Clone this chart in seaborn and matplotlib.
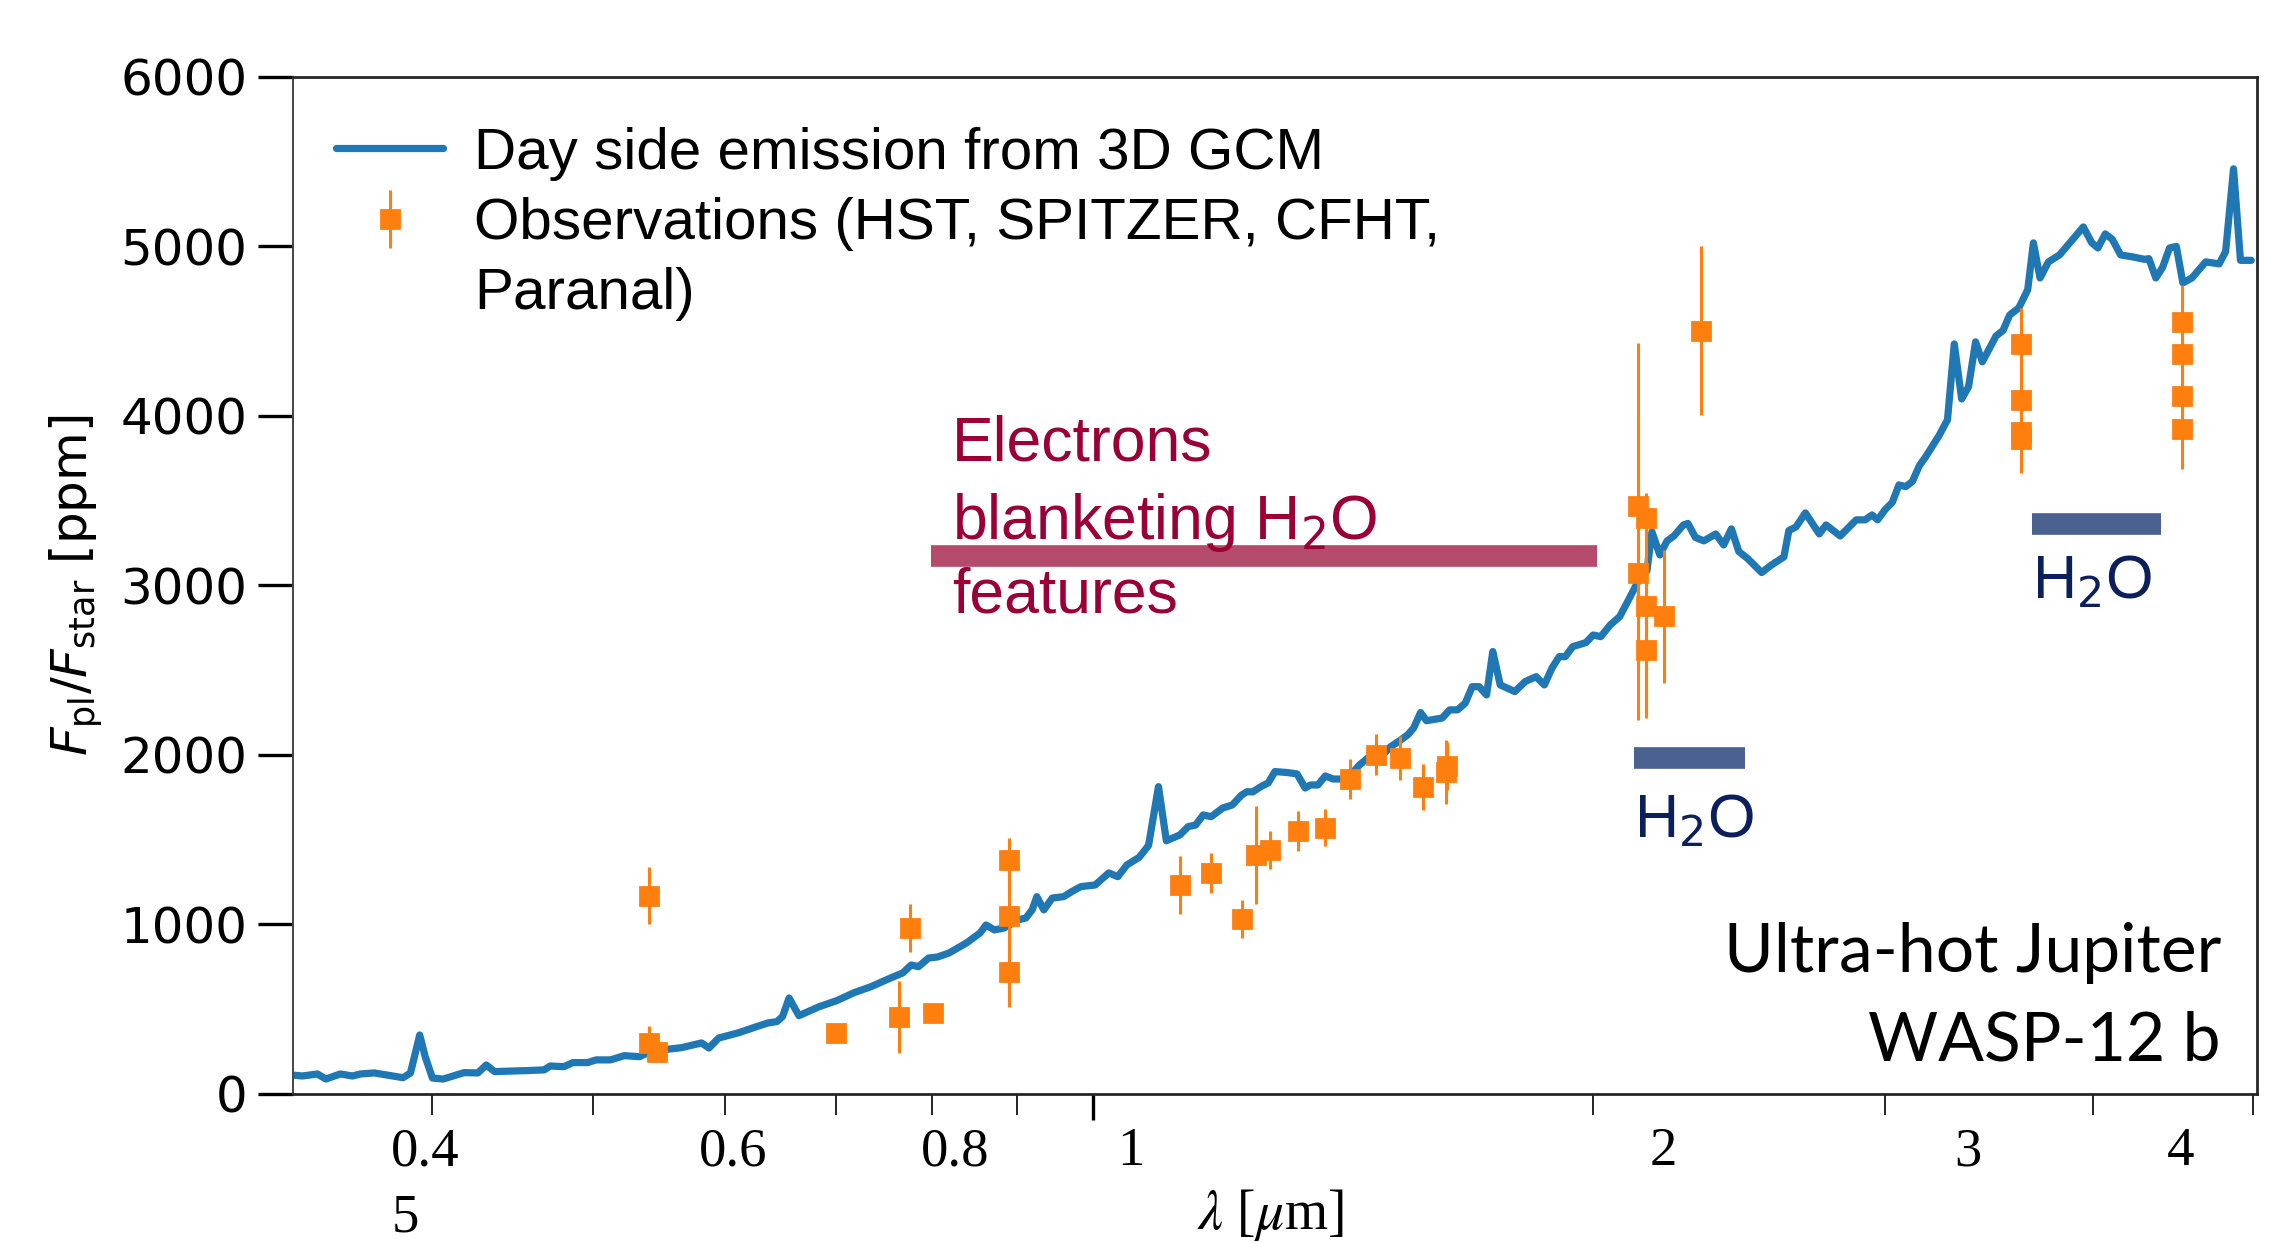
import matplotlib
matplotlib.use("Agg")
import matplotlib.pyplot as plt
import matplotlib.ticker as ticker
import matplotlib.transforms as mtransforms
from matplotlib.lines import Line2D
import seaborn as sns


sns.set_style("ticks")
plt.rcParams['font.family'] = ['DejaVu Sans']
plt.rcParams['axes.linewidth'] = 1.0
plt.rcParams['text.color'] = 'black'
plt.rcParams['axes.labelcolor'] = 'black'
plt.rcParams['xtick.color'] = 'black'
plt.rcParams['ytick.color'] = 'black'

# GCM day side emission spectrum (wavelength in micron, flux ratio in ppm)
model_wl = [0.329, 0.334, 0.341, 0.345, 0.352, 0.358, 0.362, 0.369, 0.384, 0.388,
            0.393, 0.396, 0.400, 0.406, 0.418, 0.426, 0.431, 0.436, 0.456, 0.467,
            0.471, 0.480, 0.486, 0.496, 0.502, 0.512, 0.522, 0.533, 0.539, 0.550,
            0.565, 0.581, 0.587, 0.595, 0.612, 0.627, 0.637, 0.645, 0.650, 0.656,
            0.665, 0.684, 0.701, 0.718, 0.735, 0.753, 0.768, 0.777, 0.785, 0.796,
            0.806, 0.819, 0.839, 0.855, 0.862, 0.872, 0.884, 0.901, 0.911, 0.919,
            0.925, 0.934, 0.945, 0.960, 0.971, 0.983, 1.003, 1.022, 1.035, 1.048,
            1.066, 1.080, 1.095, 1.107, 1.128, 1.141, 1.153, 1.165, 1.178, 1.197,
            1.213, 1.229, 1.238, 1.248, 1.262, 1.275, 1.287, 1.310, 1.327, 1.342,
            1.352, 1.366, 1.380, 1.395, 1.414, 1.433, 1.447, 1.464, 1.483, 1.494,
            1.511, 1.530, 1.547, 1.560, 1.575, 1.588, 1.623, 1.640, 1.658, 1.676,
            1.692, 1.708, 1.726, 1.741, 1.759, 1.795, 1.821, 1.849, 1.870, 1.890,
            1.909, 1.925, 1.945, 1.981, 2.001, 2.022, 2.049, 2.076, 2.097, 2.132,
            2.156, 2.171, 2.195, 2.217, 2.238, 2.268, 2.282, 2.306, 2.333, 2.372,
            2.398, 2.424, 2.449, 2.479, 2.528, 2.560, 2.607, 2.625, 2.651, 2.686,
            2.738, 2.764, 2.819, 2.882, 2.918, 2.946, 2.969, 3.001, 3.030, 3.058,
            3.087, 3.116, 3.146, 3.173, 3.232, 3.271, 3.302, 3.336, 3.368, 3.401,
            3.433, 3.499, 3.533, 3.566, 3.611, 3.656, 3.685, 3.719, 3.763, 3.821,
            3.885, 3.949, 3.996, 4.030, 4.071, 4.111, 4.159, 4.231, 4.299, 4.325,
            4.367, 4.408, 4.451, 4.493, 4.534, 4.591, 4.680, 4.768, 4.811, 4.864,
            4.911, 4.985]
model_flux = [112, 106, 118, 88, 118, 106, 118, 124, 96, 124,
              348, 220, 94, 88, 126, 124, 171, 132, 138, 142,
              165, 161, 185, 185, 201, 201, 226, 220, 242, 260,
              273, 301, 271, 330, 362, 397, 419, 427, 456, 566,
              462, 515, 551, 598, 633, 679, 714, 761, 751, 802,
              808, 832, 891, 950, 997, 968, 979, 1027, 1038, 1086,
              1164, 1086, 1156, 1164, 1194, 1223, 1233, 1304, 1282, 1351,
              1396, 1466, 1813, 1494, 1528, 1577, 1587, 1646, 1636, 1687,
              1705, 1764, 1783, 1782, 1813, 1835, 1902, 1896, 1888, 1805,
              1823, 1823, 1876, 1858, 1858, 1894, 1941, 1982, 2000, 2000,
              2049, 2084, 2118, 2159, 2250, 2202, 2218, 2266, 2266, 2307,
              2403, 2403, 2354, 2610, 2413, 2374, 2433, 2462, 2413, 2513,
              2580, 2580, 2639, 2663, 2708, 2698, 2767, 2816, 2897, 3033,
              3086, 3316, 3180, 3263, 3292, 3357, 3366, 3283, 3263, 3304,
              3239, 3334, 3200, 3159, 3076, 3118, 3168, 3324, 3345, 3428,
              3304, 3357, 3292, 3387, 3387, 3416, 3387, 3449, 3490, 3593,
              3583, 3614, 3707, 3758, 3882, 3977, 4425, 4100, 4172, 4437,
              4319, 4472, 4504, 4596, 4637, 4744, 5021, 4814, 4909, 4950,
              5033, 5115, 5021, 4991, 5074, 5042, 4950, 4938, 4924, 4928,
              4814, 4876, 4991, 5000, 4785, 4814, 4909, 4897, 4970, 5458,
              4918, 4918]

# Observed eclipse depths
obs_wl = [0.540, 0.540, 0.546, 0.700, 0.764, 0.776, 0.801, 0.890, 0.890, 0.890,
          1.128, 1.178, 1.229, 1.254, 1.278, 1.329, 1.379, 1.429, 1.480, 1.530,
          1.581, 1.633, 1.631, 2.128, 2.128, 2.154, 2.154, 2.154, 2.208, 2.324,
          3.62, 3.62, 3.62, 3.62, 4.53, 4.53, 4.53, 4.53]
obs_flux = [1170, 301, 250, 362, 454, 979, 478, 1381, 1050, 722,
            1233, 1304, 1033, 1410, 1440, 1552, 1571, 1858, 2000, 1982,
            1811, 1935, 1900, 3469, 3076, 3398, 2879, 2620, 2817, 4504,
            4425, 4095, 3906, 3865, 4555, 4363, 4115, 3921]
obs_err = [170, 100, 30, 25, 211, 140, 25, 130, 340, 210,
           170, 120, 111, 290, 111, 118, 108, 119, 121, 128,
           138, 140, 190, 960, 870, 150, 650, 400, 390, 500,
           210, 150, 200, 200, 218, 150, 150, 233]

# Annotation bands: (start, end) wavelength and flux level
electron_band = (0.799, 2.012, 3176)
h2o_bands = [(2.119, 2.471, 1983), (3.68, 4.40, 3363)]

x_minor_ticks = [0.4, 0.5, 0.6, 0.7, 0.8, 0.9, 2, 3, 4, 5]
x_major_ticks = [1]
x_tick_labels = ['0.4', '0.6', '0.8', '1', '2', '3', '4']
y_ticks = [0, 1000, 2000, 3000, 4000, 5000, 6000]

blue = '#1f77b4'
orange = '#ff7f0e'

fig = plt.figure(figsize=(11.36, 6.215), dpi=200)
ax = fig.add_axes([0.129, 0.1199, 0.8644, 0.8182])
ax.set_xscale('log')

sns.lineplot(x=model_wl, y=model_flux, ax=ax, color=blue, linewidth=2.6,
             estimator=None, sort=False, zorder=2,
             label='Day side emission from 3D GCM')
obs = ax.errorbar(obs_wl, obs_flux, yerr=obs_err, fmt='s', color=orange,
                  ms=6.3, mec=orange, elinewidth=1.1, capsize=0, zorder=3,
                  label='Observations (HST, SPITZER, CFHT,')

# electrons band and text
ax.plot(electron_band[:2], [electron_band[2]] * 2, color='#b54b6c', lw=7.8,
        solid_capstyle='butt', zorder=1)
txt_kw = dict(family='Liberation Sans', size=22.5, color='#9a0036', va='baseline')
ax.text(0.822, 3735, 'Electrons', **txt_kw)
ax.text(0.822, 3275, r'blanketing H$_2$O', **txt_kw)
ax.text(0.822, 2838, 'features', **txt_kw)

# water bands
for (x0, x1, yy), ty in zip(h2o_bands, [1518, 2926]):
    ax.plot([x0, x1], [yy, yy], color='#4b6290', lw=7.8, solid_capstyle='butt', zorder=1)
    ax.text(x0, ty, r'H$_2$O', family='Liberation Sans', size=22,
            color='#0a1f5c', va='baseline')

ax.text(4.78, 720, 'Ultra-hot Jupiter', family='Lato', size=24.4, ha='right', va='baseline')
ax.text(4.78, 200, 'WASP-12 b', family='Lato', size=24.4, ha='right', va='baseline')

ax.set_xlim(0.3297, 5.025)
ax.set_ylim(0, 6000)
ax.set_yticks(y_ticks)
ax.xaxis.set_major_locator(ticker.FixedLocator(x_major_ticks))
ax.xaxis.set_minor_locator(ticker.FixedLocator(x_minor_ticks))
ax.xaxis.set_major_formatter(ticker.NullFormatter())
ax.xaxis.set_minor_formatter(ticker.NullFormatter())
ax.tick_params(axis='x', which='major', length=9.4, width=1.2, direction='out')
ax.tick_params(axis='x', which='minor', length=7.5, width=0.6, direction='out')
ax.tick_params(axis='y', length=12.5, width=1.2, pad=4, labelsize=18)

# x tick labels, in a serif face and placed like the original
trans = mtransforms.blended_transform_factory(ax.transData, ax.transAxes)
for lab, xp in zip(x_tick_labels, [0.396, 0.607, 0.826, 1.054, 2.206, 3.366, 4.52]):
    ax.text(xp, -0.057, lab, transform=trans, ha='center', va='center',
            family='Liberation Serif', size=19.7)
ax.text(0.385, -0.122, '5', transform=trans, ha='center', va='center',
        family='Liberation Serif', size=19.7)

ax.set_xlabel(r'$\lambda$ [$\mu$m]', family='Liberation Serif', math_fontfamily='stix',
              size=20, va='center')
ax.xaxis.set_label_coords(0.4975, -0.119)
ax.set_ylabel(r'$F_\mathrm{pl}/F_\mathrm{star}$ [ppm]', size=18, va='center')
ax.yaxis.set_label_coords(-0.1105, 0.5)

for side in ['top', 'right', 'bottom']:
    ax.spines[side].set_linewidth(1.0)
ax.spines['left'].set_linewidth(0.7)
ax.spines['left'].set_color('#444444')

line_handle = ax.get_lines()[0]
blank = Line2D([], [], linestyle='none', marker=None)
ax.legend([line_handle, obs, blank],
          ['Day side emission from 3D GCM', 'Observations (HST, SPITZER, CFHT,', 'Paranal)'],
          loc='upper left', bbox_to_anchor=(0.0219, 0.951), frameon=False,
          prop={'family': 'Liberation Sans', 'size': 21}, handlelength=1.84,
          handletextpad=0.53, labelspacing=0.28, borderpad=0, borderaxespad=0)

plt.savefig('out.png', dpi=200)
plt.close()
